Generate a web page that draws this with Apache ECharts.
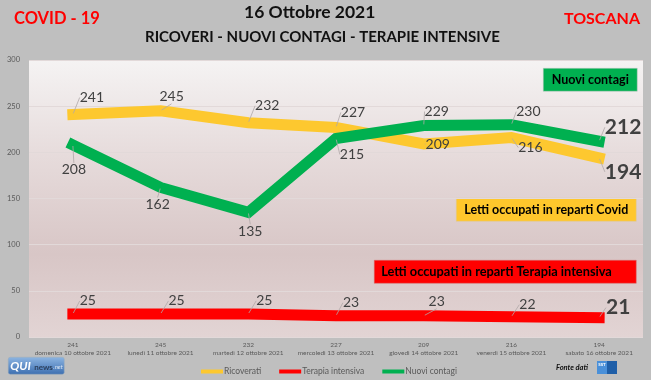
<!DOCTYPE html>
<html>
<head>
<meta charset="utf-8">
<script src="https://cdn.jsdelivr.net/npm/echarts@6/dist/echarts.min.js"></script>
<style>
html,body{margin:0;padding:0;background:#bfbfbf;}
#c{width:651px;height:380px;}
</style>
</head>
<body>
<div id="c"></div>
<script>
// ---- data ----
var categories = ['domenica 10 ottobre 2021','lunedì 11 ottobre 2021','martedì 12 ottobre 2021','mercoledì 13 ottobre 2021','giovedì 14 ottobre 2021','venerdì 15 ottobre 2021','sabato 16 ottobre 2021'];
var ricoverati = [241,245,232,227,209,216,194];
var terapiaIntensiva = [25,25,25,23,23,22,21];
var nuoviContagi = [208,162,135,215,229,230,212];
var yTicks = [0,50,100,150,200,250,300];

// ---- label offsets (layout only) ----
var offRic = [[19,-17],[11,-14],[19,-17],[17,-15],[14,0],[19,10],[24,14]];
var offCon = [[1,25],[-3,17],[2,19],[16,16],[13,-14],[17,-13],[24,-14]];
var offTer = [[15,-13],[16,-13],[16,-13],[15,-13],[13,-14],[16,-12],[19,-10]];

var FONT = 'Lato, "Open Sans", sans-serif';
var YELLOW = '#fdc82f', RED = '#ff0000', GREEN = '#00b050';

function buildData(arr){
  return arr.map(function(v,i){
    if(i === arr.length-1){
      return {value:v, label:{fontSize:21, fontWeight:'bold', color:'#404040'}};
    }
    return v;
  });
}
function mkSeries(name, arr, color, off, z){
  return {
    name:name, type:'line', data:buildData(arr), z:z,
    symbol:'circle', symbolSize:2, itemStyle:{color:color},
    lineStyle:{color:color, width:11, cap:'square', join:'miter'},
    label:{show:true, position:'inside', fontFamily:FONT, fontSize:14, color:'#404040'},
    labelLayout:function(p){ return {dx:off[p.dataIndex][0], dy:off[p.dataIndex][1]}; },
    labelLine:{show:true, lineStyle:{color:'#b0a8a8', width:0.8}},
    emphasis:{disabled:true}, animation:false
  };
}

var chart = echarts.init(document.getElementById('c'), null, {renderer:'canvas'});
chart.setOption({
  backgroundColor:'#bfbfbf',
  animation:false,
  textStyle:{fontFamily:FONT},
  grid:{left:29, right:8, top:60, bottom:43, show:true, borderWidth:0,
    backgroundColor:new echarts.graphic.LinearGradient(0,0,0,1,[
      {offset:0,color:'#f5f3f3'},{offset:0.35,color:'#e6dbdb'},{offset:0.7,color:'#d8c6c6'},{offset:1,color:'#e2d4d4'}])},
  xAxis:{type:'category', data:categories, boundaryGap:true,
    axisLine:{show:false}, axisTick:{show:false},
    axisLabel:{interval:0, fontFamily:FONT, fontSize:6.5, color:'#595959', lineHeight:8, margin:4,
      formatter:function(v,i){ return ricoverati[i] + '\n' + v; }}},
  yAxis:{type:'value', min:yTicks[0], max:yTicks[yTicks.length-1], interval:50,
    axisLine:{show:false}, axisTick:{show:false},
    axisLabel:{fontFamily:FONT, fontSize:7.5, color:'#595959', margin:9},
    splitLine:{lineStyle:{color:'#e2d9d9', width:1}}},
  legend:{left:196, top:362, itemWidth:22, itemHeight:4, itemGap:18, icon:'rect',
    textStyle:{fontFamily:FONT, fontSize:8.5, color:'#595959', padding:[0,0,0,-4]},
    data:[{name:'Ricoverati', itemStyle:{color:YELLOW}},{name:'Terapia intensiva', itemStyle:{color:RED}},{name:'Nuovi contagi', itemStyle:{color:GREEN}}]},
  series:[
    mkSeries('Ricoverati', ricoverati, YELLOW, offRic, 3),
    mkSeries('Terapia intensiva', terapiaIntensiva, RED, offTer, 3),
    mkSeries('Nuovi contagi', nuoviContagi, GREEN, offCon, 4)
  ],
  graphic:[
    {type:'text', left:244, top:3, style:{text:'16 Ottobre 2021', font:'bold 17.5px '+FONT, fill:'#111'}},
    {type:'text', left:145, top:30, style:{text:'RICOVERI - NUOVI CONTAGI - TERAPIE INTENSIVE', font:'bold 15px '+FONT, fill:'#111'}},
    {type:'text', left:14, top:10, style:{text:'COVID - 19', font:'bold 16.5px '+FONT, fill:'#ff0000'}},
    {type:'text', right:11, top:11, style:{text:'TOSCANA', font:'bold 16px '+FONT, fill:'#ff0000'}},
    // annotation boxes
    {type:'group', left:543, top:68, children:[
      {type:'rect', shape:{x:0,y:0,width:94,height:23}, style:{fill:GREEN, stroke:'#c9c9c9', lineWidth:0.5}},
      {type:'text', x:47, y:12, style:{text:'Nuovi contagi', font:'bold 12.5px '+FONT, fill:'#000', align:'center', verticalAlign:'middle'}}]},
    {type:'group', left:456, top:198, children:[
      {type:'rect', shape:{x:0,y:0,width:180,height:23}, style:{fill:'#ffc72c', stroke:'#d9c9a0', lineWidth:0.5}},
      {type:'text', x:90, y:12, style:{text:'Letti occupati in reparti Covid', font:'bold 12.5px '+FONT, fill:'#000', align:'center', verticalAlign:'middle'}}]},
    {type:'group', left:374, top:260, children:[
      {type:'rect', shape:{x:0,y:0,width:262,height:23}, style:{fill:'#ff0000', stroke:'#d07070', lineWidth:0.5}},
      {type:'text', x:7, y:12, style:{text:'Letti occupati in reparti Terapia intensiva', font:'bold 12.8px '+FONT, fill:'#000', align:'left', verticalAlign:'middle'}}]},
    // QUInews logo
    {type:'group', left:8, top:357, children:[
      {type:'rect', shape:{x:0,y:0,width:56,height:17, r:2}, style:{fill:new echarts.graphic.LinearGradient(0,0,0,1,[{offset:0,color:'#8db5e2'},{offset:1,color:'#3c6eb0'}]), stroke:'#9ab', lineWidth:0.5}},
      {type:'text', x:2, y:9, style:{text:'QUI', font:'italic bold 12px '+FONT, fill:'#fff', verticalAlign:'middle'}},
      {type:'text', x:26, y:10, style:{text:'news', font:'bold 8px '+FONT, fill:'#2b3f5c', verticalAlign:'middle'}},
      {type:'text', x:45, y:10, style:{text:'.net', font:'italic 6px '+FONT, fill:'#dde8f5', verticalAlign:'middle'}}]},
    // Fonte dati
    {type:'text', left:556, top:364, style:{text:'Fonte dati', font:'italic bold 7.5px '+FONT, fill:'#111'}},
    {type:'group', left:597, top:361, children:[
      {type:'rect', shape:{x:0,y:0,width:10,height:13}, style:{fill:'#4a90d9'}},
      {type:'text', x:5, y:4, style:{text:'SST', font:'bold 4.5px '+FONT, fill:'#fff', align:'center', verticalAlign:'middle'}},
      {type:'rect', shape:{x:10,y:0,width:10,height:13}, style:{fill:'#1f5fa8'}}]}
  ]
});
</script>
</body>
</html>
